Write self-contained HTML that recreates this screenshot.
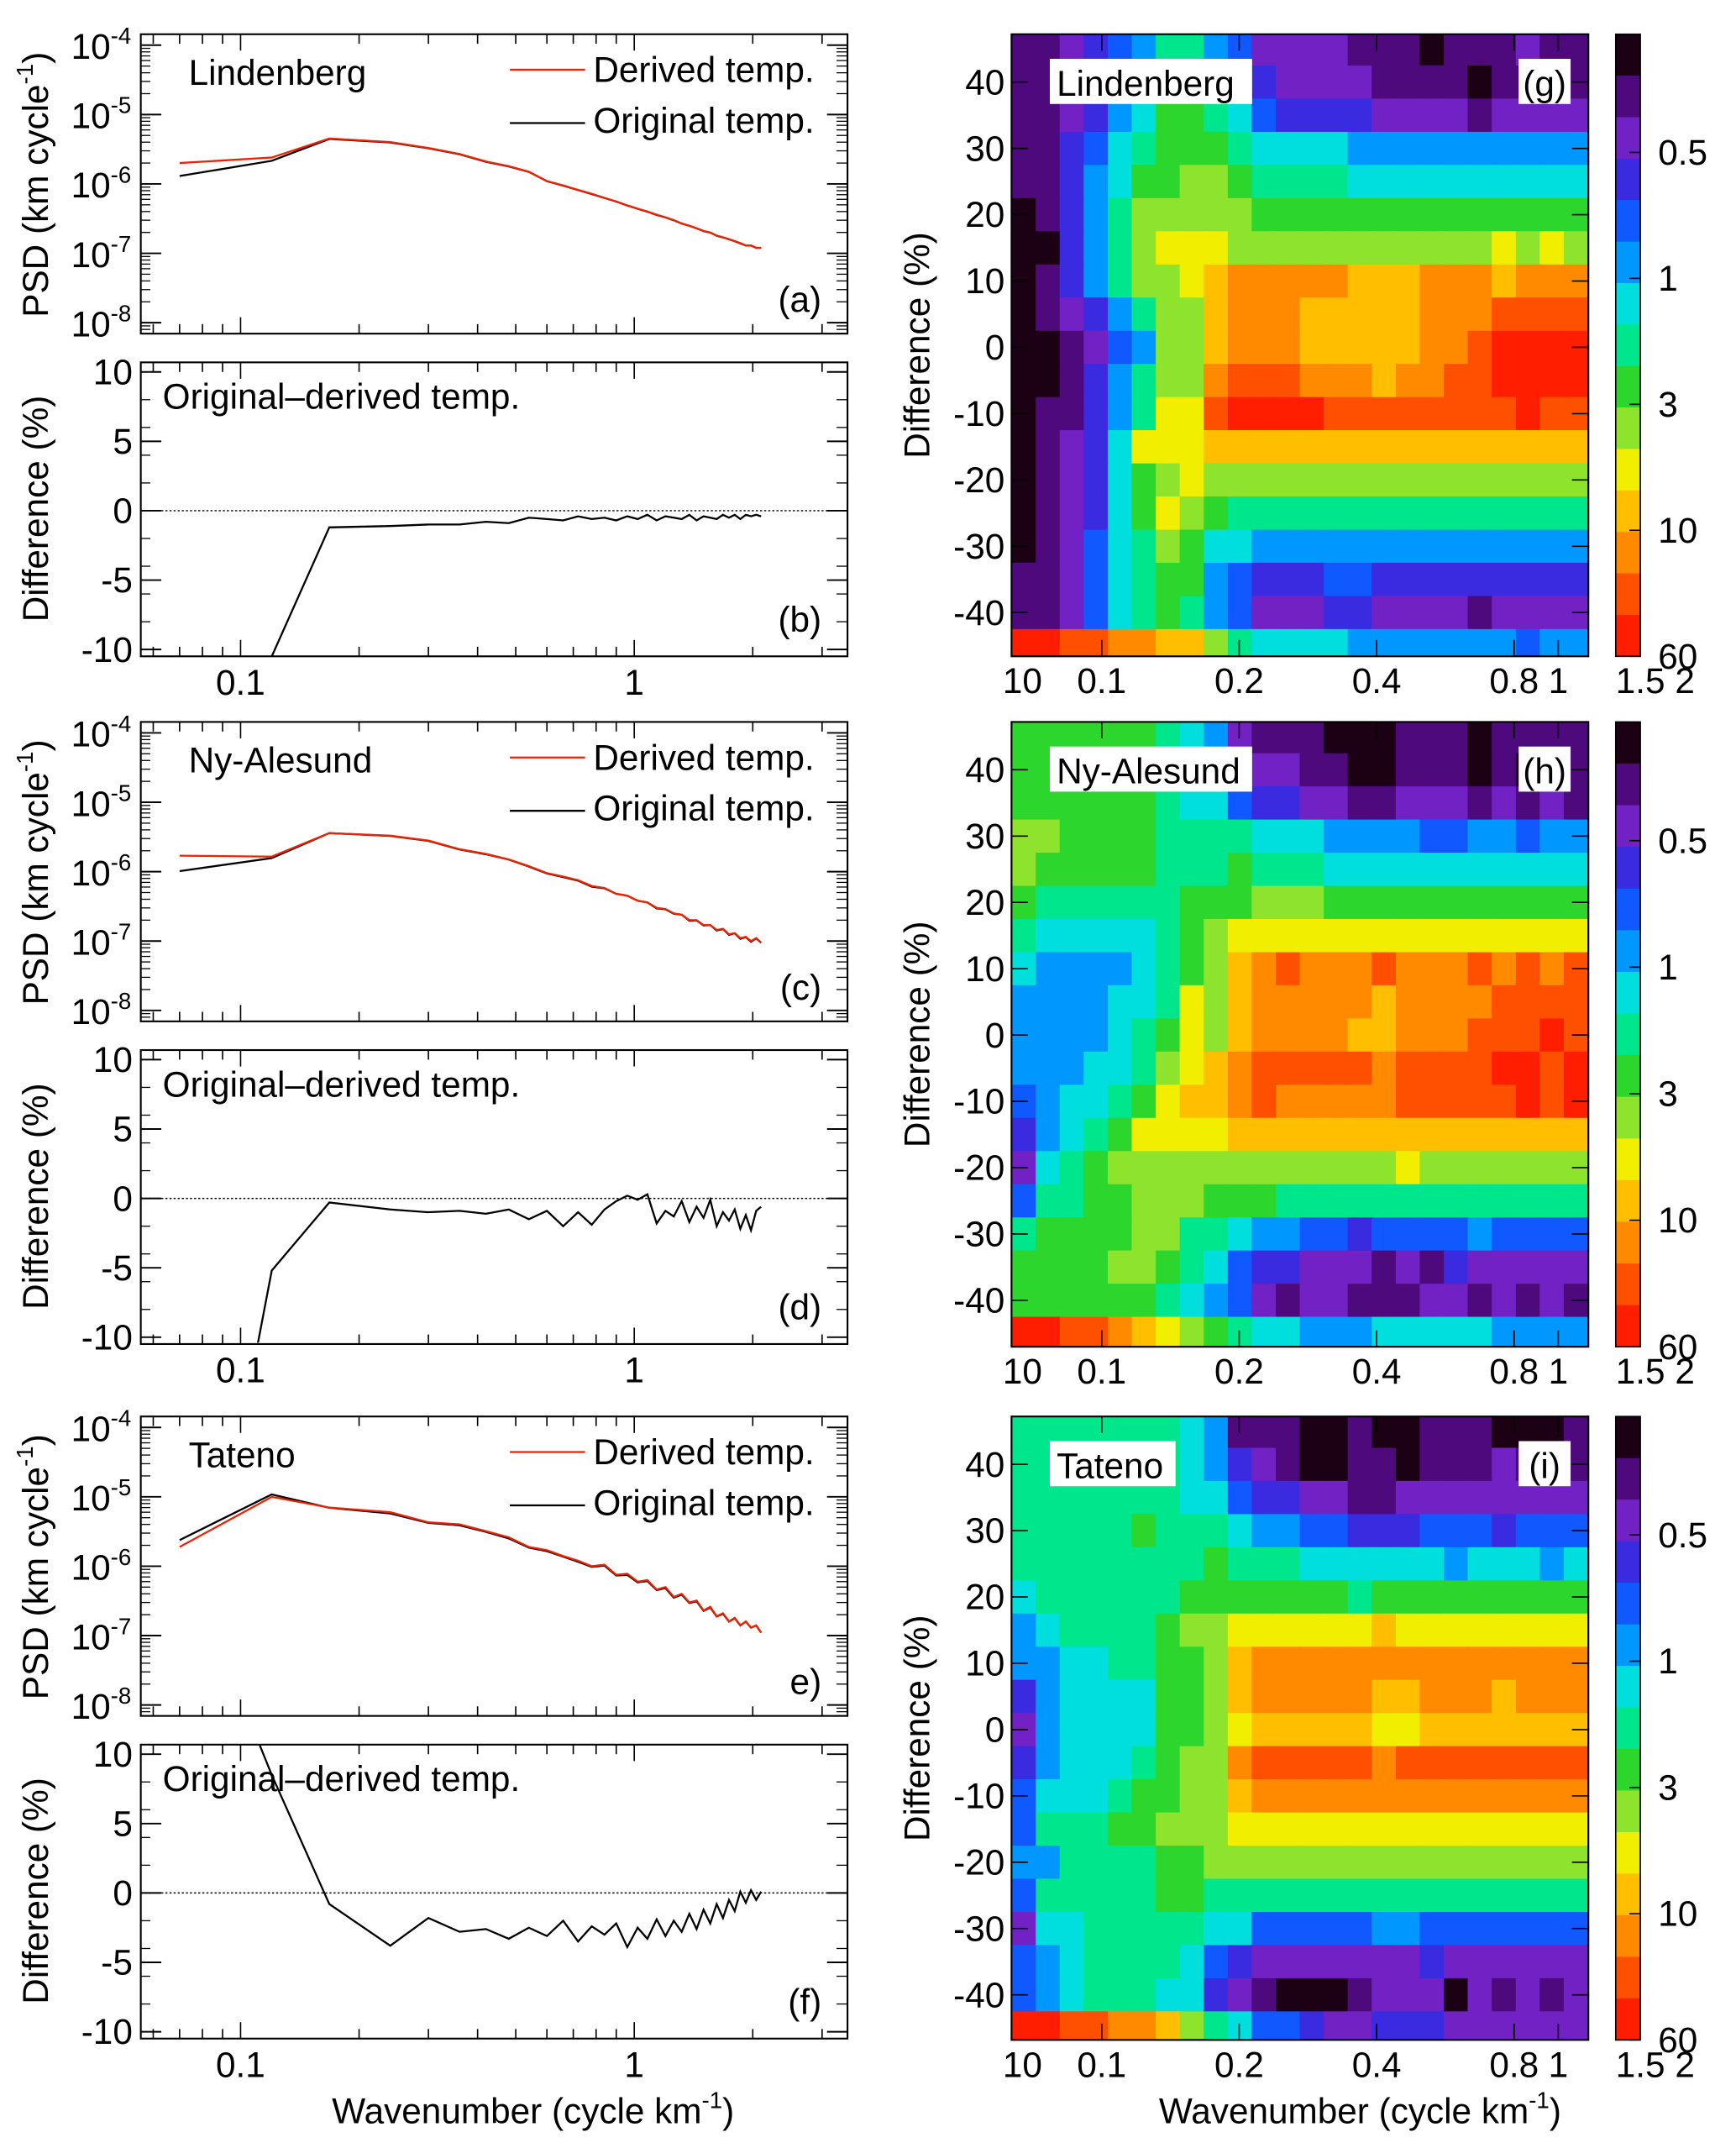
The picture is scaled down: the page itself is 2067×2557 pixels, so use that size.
<!DOCTYPE html>
<html><head><meta charset="utf-8"><style>
html,body{margin:0;padding:0;background:#fff}
svg{display:block}
text{font-family:"Liberation Sans",sans-serif;fill:#000}
</style></head><body>
<svg id="fig" xmlns="http://www.w3.org/2000/svg" width="2067" height="2557" viewBox="0 0 1270 1571">
<defs>
<clipPath id="cl1"><rect x="103" y="265" width="517" height="215"/></clipPath>
<clipPath id="cl2"><rect x="103" y="768" width="517" height="214"/></clipPath>
<clipPath id="cl3"><rect x="103" y="1276" width="517" height="214"/></clipPath>
<clipPath id="cr0"><rect x="740" y="25" width="422" height="455"/></clipPath>
<clipPath id="cr1"><rect x="740" y="528" width="422" height="457"/></clipPath>
<clipPath id="cr2"><rect x="740" y="1036" width="422" height="456"/></clipPath>
</defs>
<g id="root"></g>
</svg>
<script>
// ---- data ----
const kvals=[0.07,0.12,0.168,0.24,0.30,0.36,0.42,0.48,0.54,0.60,0.66,0.72,0.78,0.84,0.90,0.96,1.02,1.08,1.14,1.20,1.26,1.32,1.38,1.44,1.50,1.56,1.62,1.68,1.74,1.80,1.86,1.92,1.98,2.04,2.10];
const psdLind=[2.0e-6,2.4e-6,4.5e-6,4.0e-6,3.3e-6,2.7e-6,2.1e-6,1.8e-6,1.5e-6,1.1e-6,9.5e-7,8.2e-7,7.2e-7,6.3e-7,5.6e-7,4.9e-7,4.4e-7,4.0e-7,3.6e-7,3.3e-7,3.0e-7,2.7e-7,2.5e-7,2.3e-7,2.1e-7,2.0e-7,1.8e-7,1.7e-7,1.6e-7,1.5e-7,1.4e-7,1.3e-7,1.3e-7,1.2e-7,1.2e-7];
const psdNy=[1.7e-6,1.65e-6,3.6e-6,3.3e-6,2.8e-6,2.1e-6,1.8e-6,1.5e-6,1.2e-6,9.5e-7,8.5e-7,7.5e-7,6.2e-7,5.8e-7,4.8e-7,4.5e-7,3.8e-7,3.6e-7,3.0e-7,2.9e-7,2.5e-7,2.4e-7,2.0e-7,2.0e-7,1.7e-7,1.7e-7,1.45e-7,1.5e-7,1.25e-7,1.3e-7,1.1e-7,1.15e-7,1.0e-7,1.1e-7,0.95e-7];
const psdTat=[1.9e-6,1.0e-5,7.0e-6,6.0e-6,4.3e-6,4.0e-6,3.2e-6,2.6e-6,1.9e-6,1.7e-6,1.4e-6,1.2e-6,1.0e-6,1.05e-6,7.5e-7,7.8e-7,6.0e-7,6.3e-7,4.6e-7,5.0e-7,3.6e-7,4.0e-7,3.0e-7,3.2e-7,2.3e-7,2.6e-7,1.9e-7,2.1e-7,1.6e-7,1.8e-7,1.4e-7,1.6e-7,1.3e-7,1.4e-7,1.1e-7];
const diffLind=[-35,-10.5,-1.2,-1.1,-1.0,-1.0,-0.8,-0.9,-0.5,-0.6,-0.7,-0.4,-0.6,-0.5,-0.7,-0.4,-0.6,-0.3,-0.7,-0.4,-0.5,-0.6,-0.3,-0.7,-0.4,-0.5,-0.6,-0.3,-0.5,-0.3,-0.6,-0.3,-0.4,-0.3,-0.4];
const diffNy=[-40,-5.2,-0.3,-0.8,-1.0,-0.9,-1.1,-0.8,-1.5,-0.9,-2.0,-1.0,-1.9,-0.8,-0.2,0.2,-0.1,0.3,-1.8,-0.9,-1.3,-0.2,-1.7,-0.6,-1.4,-0.1,-2.0,-1.0,-1.6,-0.8,-2.2,-1.2,-2.3,-0.9,-0.6];
const diffTat=[25,8.5,-0.8,-3.8,-1.8,-2.8,-2.6,-3.3,-2.5,-3.1,-2.0,-3.5,-2.4,-3.0,-2.2,-3.9,-2.5,-3.3,-1.9,-3.1,-2.0,-2.8,-1.5,-2.6,-1.2,-2.2,-0.8,-1.8,-0.5,-1.3,0.1,-0.7,0.2,-0.5,0.1];
const psdTicks=[-4,-5,-6,-7,-8];
const diffTicks=[10,5,0,-5,-10];
const hmRows=[45,40,35,30,25,20,15,10,5,0,-5,-10,-15,-20,-25,-30,-35,-40,-45];
const heatLind=["112345775422221110111211","112356876532222111101121","112356887643333222212222","113467888766665555555555","113568899877776666666666","013579999988888888888888","003579AAA99999999999A9A9","0135799ABCCCCCBBBCCCBCCC","01235799BCCCBBBBBCCCDDDD","00124599BCCCBBBBBCCDEEEE","00135799CDDDCCCBCCDDEEEE","011357AADEEEEDDDDDDDDEDD","01236AAABBBBBBBBBBBBBBBB","0123689A9999999999999999","012368A98777777777777777","012467986655555555555555","112467885433344333333333","112467875422233222212222","EEDDCCBB9766665555555455"];
const heatNy=["888888765211100011101111","888887765322110011101011","888888766433221122212121","998888777766655554455455","988888777877766666666666","877777788899988888888888","766666789AAAAAAAAAAAAAAA","655556789BCDCCCDCCCDCDCD","5555667A9BCCCCCBCCCCDDDD","5555678A9BCCCCBBCCCDDDED","5556679ABCDDDDDCDDDDEEDE","456678ABBCDCCCCCDDDDDEDE","35678AAAABBBBBBBBBBBBBBB","2678999999999999A9999999","477889998887777777777777","788889977655443444454444","888899876433222121322222","888888765421221112212121","EEDDCBA98766555666665555"];
const heatTat=["777777765111001001110001","777777765321001101112111","777777766433221122222222","777778777655443334443444","777777778777666666566656","677777788888887888888888","567777899AAAAAABAAAAAAAA","556677889BCCCCCCCCCCCCCC","356666889BCCCCCBBCCCBCCC","256666889ABBBBBAABBBBBBB","356667899CDDDDDCDDDDDDDD","466678899BCCCCCCCCCCCCCC","477788999AAAAAAAAAAAAAAA","557777889999999999999999","477777887777777777777777","266777776644444554444444","456777764322222223222222","456777663210001222021212","EEDDCCB97644322333222222"];
const hmYTicks=[40,30,20,10,0,-10,-20,-30,-40];
const hmXTicks=[0.1,0.2,0.4,0.8,1];
const cbLabels=["0.5","1","3","10","60"];
// ---- rendering ----
const palette=["#1c0014","#4e0a7c","#7222c4","#3a2ae0","#1058ff","#0098ff","#00dede","#00e68c","#2cd62c","#8ee42c","#f2ee00","#ffbe00","#ff8a00","#ff5000","#ff1e00"];
const NS="http://www.w3.org/2000/svg";
const root=document.getElementById('root');
function el(tag,attrs,parent,txt){const e=document.createElementNS(NS,tag);for(const k in attrs)e.setAttribute(k,attrs[k]);if(txt!==undefined)e.textContent=txt;(parent||root).appendChild(e);return e;}
const lx=k=>176+288*Math.log10(k/0.1);
function psdY(v,top){return top+8+(-4-Math.log10(v))*50.75;}
function diffY(v,top){return top+7+(10-v)*10.15;}
const rx=k=>806+334*Math.log10(k/0.1);
function ry(v,top){return top+35+(40-v)*4.85;}

const leftSets=[
 {name:'lindenberg',label:'Lindenberg',psd:psdLind,diff:diffLind,ta:25,tb:265,la:'(a)',lb:'(b)',ci:1},
 {name:'ny-alesund',label:'Ny-Alesund',psd:psdNy,diff:diffNy,ta:528,tb:768,la:'(c)',lb:'(d)',ci:2},
 {name:'tateno',label:'Tateno',psd:psdTat,diff:diffTat,ta:1036,tb:1276,la:'e)',lb:'(f)',ci:3}];
leftSets.forEach(s=>{
 const g=el('g',{});
 
 
 const H=219;
 el('rect',{x:103,y:s.ta,width:517,height:H,fill:'none',stroke:'#000','stroke-width':1.3},g);
 psdTicks.forEach(t=>{
  const y=psdY(Math.pow(10,t),s.ta);
  el('line',{x1:103,x2:118,y1:y,y2:y,stroke:'#000','stroke-width':1.2},g);
  el('line',{x1:605,x2:620,y1:y,y2:y,stroke:'#000','stroke-width':1.2},g);
  for(let m=2;m<=9;m++){const ym=psdY(m*Math.pow(10,t-1),s.ta);if(ym>s.ta&&ym<s.ta+H){el('line',{x1:103,x2:110,y1:ym,y2:ym,stroke:'#000','stroke-width':0.8},g);el('line',{x1:612,x2:620,y1:ym,y2:ym,stroke:'#000','stroke-width':0.8},g);}}
  const tx=el('text',{x:96,y:y+10,'text-anchor':'end','font-size':26},g);
  
  
  tx.innerHTML='10<tspan dy="-11" font-size="17">'+t+'</tspan>';
 });
 [0.06,0.07,0.08,0.09,0.1,0.2,0.3,0.4,0.5,0.6,0.7,0.8,0.9,1,2,3].forEach(k=>{const x=lx(k);if(x<=103||x>=620)return;const L=(k===0.1||k===1)?12:7;
  el('line',{x1:x,x2:x,y1:s.ta+H,y2:s.ta+H-L,stroke:'#000','stroke-width':1},g);el('line',{x1:x,x2:x,y1:s.ta,y2:s.ta+L,stroke:'#000','stroke-width':1},g);});
 let dO='',dD='';
 kvals.forEach((k,i)=>{const orig=s.psd[i]*(1+s.diff[i]/100);dO+=(i?'L':'M')+lx(k).toFixed(1)+','+psdY(orig,s.ta).toFixed(1);dD+=(i?'L':'M')+lx(k).toFixed(1)+','+psdY(s.psd[i],s.ta).toFixed(1);});
 const po=el('path',{d:dO,fill:'none',stroke:'#000','stroke-width':1.4},g);
 
 
 const pd=el('path',{d:dD,fill:'none',stroke:'#ee2200','stroke-width':1.4},g);
 
 
 const st=el('text',{x:138,y:s.ta+37,'font-size':26},g,s.label);
 
 
 el('line',{x1:373,x2:428,y1:s.ta+26,y2:s.ta+26,stroke:'#ee2200','stroke-width':1.4},g);
 const l1=el('text',{x:434,y:s.ta+35,'font-size':26},g,'Derived temp.');
 
 
 el('line',{x1:373,x2:428,y1:s.ta+65,y2:s.ta+65,stroke:'#000','stroke-width':1.4},g);
 const l2=el('text',{x:434,y:s.ta+72,'font-size':26},g,'Original temp.');
 
 
 const pa=el('text',{x:601,y:s.ta+203,'font-size':26,'text-anchor':'end'},g,s.la);
 
 
 const yt=el('text',{transform:'translate(35,'+(s.ta+110)+') rotate(-90)','text-anchor':'middle','font-size':26},g);
 
 
 yt.innerHTML='PSD (km cycle<tspan dy="-11" font-size="17">-1</tspan><tspan dy="11">)</tspan>';
 const g2=el('g',{});
 
 
 el('rect',{x:103,y:s.tb,width:517,height:215,fill:'none',stroke:'#000','stroke-width':1.3},g2);
 diffTicks.forEach(t=>{const y=diffY(t,s.tb);
  el('line',{x1:103,x2:118,y1:y,y2:y,stroke:'#000','stroke-width':1.2},g2);el('line',{x1:605,x2:620,y1:y,y2:y,stroke:'#000','stroke-width':1.2},g2);
  const tl=el('text',{x:97,y:y+9,'text-anchor':'end','font-size':26},g2,String(t));
  
  });
 [-8,-6,-4,-2,2,4,6,8].forEach(t=>{const y=diffY(t,s.tb);el('line',{x1:103,x2:110,y1:y,y2:y,stroke:'#000','stroke-width':0.8},g2);el('line',{x1:612,x2:620,y1:y,y2:y,stroke:'#000','stroke-width':0.8},g2);});
 [0.06,0.07,0.08,0.09,0.1,0.2,0.3,0.4,0.5,0.6,0.7,0.8,0.9,1,2,3].forEach(k=>{const x=lx(k);if(x<=103||x>=620)return;const L=(k===0.1||k===1)?12:7;
  el('line',{x1:x,x2:x,y1:s.tb+215,y2:s.tb+215-L,stroke:'#000','stroke-width':1},g2);el('line',{x1:x,x2:x,y1:s.tb,y2:s.tb+L,stroke:'#000','stroke-width':1},g2);});
 [[0.1,'0.1'],[1,'1']].forEach(([k,t])=>{const xl=el('text',{x:lx(k),y:s.tb+243,'text-anchor':'middle','font-size':26},g2,t);
  
  });
 el('line',{x1:103,x2:620,y1:diffY(0,s.tb),y2:diffY(0,s.tb),stroke:'#000','stroke-width':0.9,'stroke-dasharray':'1.5,1.5'},g2);
 let dd='';kvals.forEach((k,i)=>{dd+=(i?'L':'M')+lx(k).toFixed(1)+','+diffY(s.diff[i],s.tb).toFixed(1);});
 const dl=el('path',{d:dd,fill:'none',stroke:'#000','stroke-width':1.4,'clip-path':'url(#cl'+s.ci+')'},g2);
 
 
 const dt=el('text',{x:119,y:s.tb+34,'font-size':26},g2,'Original\u2013derived temp.');
 
 
 const pb=el('text',{x:601,y:s.tb+197,'font-size':26,'text-anchor':'end'},g2,s.lb);
 
 
 const yt2=el('text',{transform:'translate(35,'+(s.tb+107)+') rotate(-90)','text-anchor':'middle','font-size':26},g2,'Difference (%)');
 
 
});
const xtl=el('text',{x:390,y:1553,'text-anchor':'middle','font-size':26});


xtl.innerHTML='Wavenumber (cycle km<tspan dy="-11" font-size="17">-1</tspan><tspan dy="11">)</tspan>';

const rightSets=[
 {name:'lindenberg',label:'Lindenberg',data:heatLind,top:25,bot:480,let:'(g)'},
 {name:'ny-alesund',label:'Ny-Alesund',data:heatNy,top:528,bot:985,let:'(h)'},
 {name:'tateno',label:'Tateno',data:heatTat,top:1036,bot:1492,let:'(i)'}];
const lk0=Math.log10(0.0635),lk1=Math.log10(1.16);
rightSets.forEach((s,pi)=>{
 const g=el('g',{});
 
 
 const cg=el('g',{'clip-path':'url(#cr'+pi+')'},g);
 const nc=s.data[0].length,step=(lk1-lk0)/nc;
 s.data.forEach((row,r)=>{const v=hmRows[r];
  for(let c=0;c<nc;c++){const x0=rx(Math.pow(10,lk0+c*step)),x1=rx(Math.pow(10,lk0+(c+1)*step));
   const y0=ry(v+2.5,s.top),y1=ry(v-2.5,s.top);
   const cell=el('rect',{x:x0.toFixed(1),y:y0.toFixed(1),width:(x1-x0+0.6).toFixed(1),height:(y1-y0+0.6).toFixed(1),fill:palette[parseInt(row[c],16)]},cg);
   
   }
 });
 el('rect',{x:740,y:s.top,width:422,height:s.bot-s.top,fill:'none',stroke:'#000','stroke-width':1.3},g);
 hmYTicks.forEach(t=>{const y=ry(t,s.top);el('line',{x1:740,x2:752,y1:y,y2:y,stroke:'#000'},g);el('line',{x1:1150,x2:1162,y1:y,y2:y,stroke:'#000'},g);
  const tl=el('text',{x:735,y:y+9,'text-anchor':'end','font-size':26},g,String(t));
  
  });
 const zl=el('text',{x:748,y:s.bot+27,'text-anchor':'middle','font-size':26},g,'10');
 
 
 hmXTicks.forEach(k=>{const x=rx(k);el('line',{x1:x,x2:x,y1:s.bot,y2:s.bot-12,stroke:'#000'},g);el('line',{x1:x,x2:x,y1:s.top,y2:s.top+12,stroke:'#000'},g);
  const tl=el('text',{x:x,y:s.bot+27,'text-anchor':'middle','font-size':26},g,String(k));
  
  });
 const lw=s.label.length*14+8;
 el('rect',{x:768,y:s.top+18,width:lw,height:33,fill:'#fff'},g);
 const st=el('text',{x:773,y:s.top+45,'font-size':26},g,s.label);
 
 
 el('rect',{x:1111,y:s.top+18,width:38,height:33,fill:'#fff'},g);
 const pl=el('text',{x:1130,y:s.top+45,'font-size':26,'text-anchor':'middle'},g,s.let);
 
 
 const yt=el('text',{transform:'translate(680,'+((s.top+s.bot)/2)+') rotate(-90)','text-anchor':'middle','font-size':26},g,'Difference (%)');
 
 
 const cb=el('g',{},g);
 
 
 const bh=(s.bot-s.top)/palette.length;
 palette.forEach((c,i)=>{el('rect',{x:1182,y:(s.top+i*bh).toFixed(1),width:18,height:(bh+0.5).toFixed(1),fill:c},cb);});
 el('rect',{x:1182,y:s.top,width:18,height:s.bot-s.top,fill:'none',stroke:'#000','stroke-width':1},cb);
 const H=s.bot-s.top;
 cbLabels.forEach((t,i)=>{const y=s.top+H*(0.19+i*0.2025);
  el('line',{x1:1192,x2:1200,y1:y,y2:y,stroke:'#000'},cb);
  const tl=el('text',{x:1213,y:y+9,'font-size':26},cb,t);
  
  });
 const cbx=el('text',{x:1182,y:s.bot+27,'font-size':26},cb,'1.5  2');
 
 
});
const xtr=el('text',{x:995,y:1553,'text-anchor':'middle','font-size':26});


xtr.innerHTML='Wavenumber (cycle km<tspan dy="-11" font-size="17">-1</tspan><tspan dy="11">)</tspan>';
</script>
</body></html>
